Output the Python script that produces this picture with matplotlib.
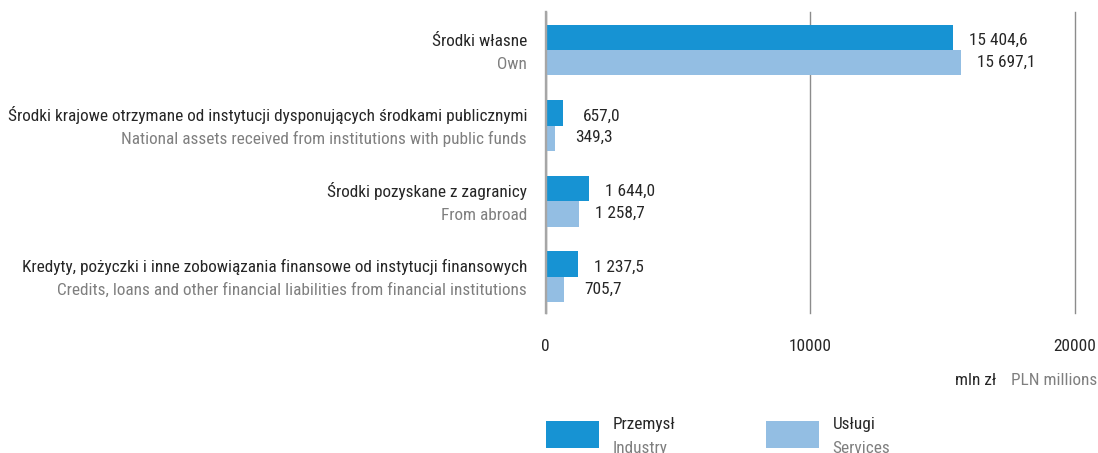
import matplotlib
matplotlib.use("Agg")
import matplotlib.pyplot as plt
from matplotlib import font_manager
from matplotlib.font_manager import FontProperties
from matplotlib.patches import Rectangle

# ---- data -----------------------------------------------------------------
categories_pl = [
    "Środki własne",
    "Środki krajowe otrzymane od instytucji dysponujących środkami publicznymi",
    "Środki pozyskane z zagranicy",
    "Kredyty, pożyczki i inne zobowiązania finansowe od instytucji finansowych",
]
categories_en = [
    "Own",
    "National assets received from institutions with public funds",
    "From abroad",
    "Credits, loans and other financial liabilities from financial institutions",
]
industry = [15404.6, 657.0, 1644.0, 1237.5]
services = [15697.1, 349.3, 1258.7, 705.7]
series_pl = ["Przemysł", "Usługi"]
series_en = ["Industry", "Services"]
x_ticks = [0, 10000, 20000]
unit_pl = "mln zł"
unit_en = "PLN millions"


# ---- font: prefer a condensed sans face --------------------------------------
def _regular(f):
    return f.style == "normal" and f.weight in (400, "normal", "regular", "book")


def pick_font():
    entries = font_manager.fontManager.ttflist
    for name in ("Roboto Condensed", "Noto Sans Condensed", "Open Sans Condensed",
                 "Liberation Sans Narrow", "Noto Sans SemiCondensed",
                 "Open Sans SemiCondensed"):
        for f in entries:
            if f.name == name and _regular(f):
                return FontProperties(fname=f.fname)
    for stretch in ("condensed", "semi-condensed"):
        for fam in ("Roboto", "Noto Sans", "Open Sans", "Lato", "DejaVu Sans"):
            for f in entries:
                if f.name == fam and f.stretch == stretch and _regular(f):
                    return FontProperties(fname=f.fname)
    return FontProperties(family="DejaVu Sans", stretch="condensed")


FP = pick_font()

C_IND = "#1793d3"
C_SRV = "#93bee3"
C_DARK = "#262626"
C_GREY = "#7f7f7f"

W, H, DPI = 1098, 453, 100
fig = plt.figure(figsize=(W / DPI, H / DPI), dpi=DPI)

# size the type so the longest category label spans its column (8 px .. 527 px)
_probe = fig.text(0, 0, categories_pl[1], fontproperties=FP, fontsize=10)
_w = _probe.get_window_extent(fig.canvas.get_renderer()).width
_probe.remove()
FS = min(14.0, 10 * 519 / _w)


def fx(px):
    return px / W


def fy(py):
    return 1 - py / H


def txt(**kw):
    kw.setdefault("fontproperties", FP)
    return kw


ax = fig.add_axes([fx(545.7), fy(313), (1075 - 545.7) / W, (313 - 11.7) / H])

pos = list(range(len(categories_pl)))
h = 0.337
ax.barh([p - h / 2 for p in pos], industry, height=h, color=C_IND, zorder=3)
ax.barh([p + h / 2 for p in pos], services, height=h, color=C_SRV, zorder=3)

ax.set_xlim(0, 20000)
ax.set_ylim(3.48, -0.507)
ax.set_yticks([])
ax.set_xticks(x_ticks)
ax.set_xticklabels([str(t) for t in x_ticks])
for lbl in ax.get_xticklabels():
    lbl.set_fontproperties(FP)
    lbl.set_fontsize(FS)
    lbl.set_color(C_DARK)
ax.tick_params(axis="x", length=0, pad=18.5)
ax.grid(axis="x", color="#8c8c8c", lw=1.0)
for gl in ax.get_xgridlines():
    gl.set_clip_on(False)
ax.set_axisbelow(True)
for s in ("top", "right", "bottom"):
    ax.spines[s].set_visible(False)
ax.spines["left"].set_color("#a6a6a6")
ax.spines["left"].set_linewidth(1.7)
ax.spines["left"].set_zorder(4)


def fmt(v):
    s = f"{v:,.1f}"
    return s.replace(",", " ").replace(".", ",")


for p, pl, en, vi, vs in zip(pos, categories_pl, categories_en, industry, services):
    ax.annotate(pl, xy=(0, p), xycoords=("axes fraction", "data"),
                xytext=(-18.7, 4.5), textcoords="offset pixels",
                ha="right", va="baseline", fontsize=FS, color=C_DARK,
                fontproperties=FP)
    ax.annotate(en, xy=(0, p), xycoords=("axes fraction", "data"),
                xytext=(-18.7, -18.5), textcoords="offset pixels",
                ha="right", va="baseline", fontsize=FS, color=C_GREY,
                fontproperties=FP)
    ax.annotate(fmt(vi), xy=(vi, p), xytext=(15.5 if vi >= 1000 else 20, 5),
                textcoords="offset pixels", ha="left", va="baseline",
                fontsize=FS, color=C_DARK, fontproperties=FP)
    ax.annotate(fmt(vs), xy=(vs, p), xytext=(15.5 if vs >= 1000 else 20, -16.7),
                textcoords="offset pixels", ha="left", va="baseline",
                fontsize=FS, color=C_DARK, fontproperties=FP)

# unit caption
fig.text(fx(1097), fy(385), unit_en, ha="right", va="baseline",
         fontsize=FS, color=C_GREY, fontproperties=FP)
fig.text(fx(996.7), fy(385), unit_pl, ha="right", va="baseline",
         fontsize=FS, color=C_DARK, fontproperties=FP)

# legend
for x0, col, pl, en in zip([546, 766], [C_IND, C_SRV], series_pl, series_en):
    fig.add_artist(Rectangle((fx(x0), fy(447.7)), 53 / W, 26.7 / H,
                             transform=fig.transFigure, color=col, lw=0))
    fig.text(fx(x0 + 66.5), fy(428.5), pl, ha="left", va="baseline",
             fontsize=FS, color=C_DARK, fontproperties=FP)
    fig.text(fx(x0 + 66.5), fy(453.5), en, ha="left", va="baseline",
             fontsize=FS, color=C_GREY, fontproperties=FP)

fig.savefig("out.png", dpi=DPI)
